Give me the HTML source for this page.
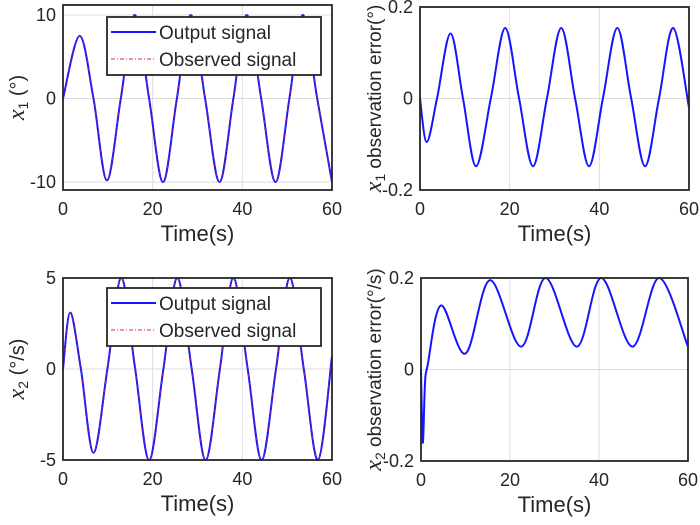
<!DOCTYPE html>
<html><head><meta charset="utf-8"><style>
html,body{margin:0;padding:0;background:#fff;width:700px;height:525px;overflow:hidden}
svg{display:block}
text{font-family:"Liberation Sans",sans-serif;fill:#262626}
</style></head><body>
<svg id="fig" width="700" height="525" viewBox="0 0 700 525"></svg>
<script>
// ---- data ----
const x1Times = [0,3.7,6.8,9.8,12.9,16,19.2,22.3,25.4,28.5,31.7,34.9,38,41,44.2,47.4,50.5,53.5,56.7,60];
const x1Values = [0,7.5,0,-9.8,0,10,0,-10,0,10,0,-10,0,10,0,-10,0,10,0,-10];
const e1Times = [0,1.5,3.8,6.8,9.6,12.5,15.8,19,22.1,25.2,28.3,31.5,34.6,37.7,40.8,44,47.1,50.2,53.3,56.5,60];
const e1Values = [0,-0.095,0,0.142,0,-0.148,0,0.154,0,-0.148,0,0.154,0,-0.148,0,0.154,0,-0.148,0,0.154,-0.02];
const x2Times = [0,1.6,4,6.8,9.9,13,16.1,19.2,22.4,25.5,28.7,31.8,35,38,41.2,44.3,47.5,50.6,53.7,56.9,60];
const x2Values = [0,3.1,0,-4.6,0,5,0,-5,0,5,0,-5,0,5,0,-5,0,5,0,-5,0.7];
const e2Times = [0,0.4,0.9,1.5,4.5,10,15.5,22.5,28,35,40.5,47.5,53.5,60];
const e2Values = [0,-0.16,-0.03,0.01,0.14,0.035,0.195,0.05,0.2,0.05,0.2,0.05,0.2,0.05];
const xTicks = [0,20,40,60];

const NS='http://www.w3.org/2000/svg';
const svg=document.getElementById('fig');
function mk(tag,attrs,parent){const e=document.createElementNS(NS,tag);for(const k in attrs)e.setAttribute(k,attrs[k]);(parent||svg).appendChild(e);return e;}

function spline(px){
  let d='M'+px[0][0].toFixed(1)+','+px[0][1].toFixed(1);
  for(let i=0;i<px.length-1;i++){
    const p0=px[Math.max(0,i-1)],p1=px[i],p2=px[i+1],p3=px[Math.min(px.length-1,i+2)];
    const c1=[p1[0]+(p2[0]-p0[0])/6,p1[1]+(p2[1]-p0[1])/6];
    const c2=[p2[0]-(p3[0]-p1[0])/6,p2[1]-(p3[1]-p1[1])/6];
    d+='C'+c1.map(v=>v.toFixed(1)).join(',')+' '+c2.map(v=>v.toFixed(1)).join(',')+' '+p2[0].toFixed(1)+','+p2[1].toFixed(1);
  }
  return d;
}

function panel(o){
  const g=mk('g',{});
  
  
  const X=v=>o.x0+(v-0)/(60-0)*(o.x1-o.x0);
  const Y=v=>o.yA+(v-o.vA)/(o.vB-o.vA)*(o.yB-o.yA);
  const top=o.top,bot=o.bot;
  xTicks.forEach(t=>{const l=mk('line',{x1:X(t),x2:X(t),y1:top,y2:bot,stroke:'#dcdcdc','stroke-width':1},g);
    });
  o.yTicks.forEach(t=>{const l=mk('line',{x1:o.x0,x2:o.x1,y1:Y(t),y2:Y(t),stroke:'#dcdcdc','stroke-width':1},g);
    });
  const pts=o.t.map((t,i)=>[X(t),Y(o.v[i])]);
  const p=mk('path',{d:spline(pts),fill:'none',stroke:'#1515ff','stroke-width':2},g);
  
  if(o.obs){const q=mk('path',{d:spline(pts),fill:'none',stroke:'#e03030','stroke-width':0.8,'stroke-dasharray':'4,2,1,2',opacity:0.7},g);
    }
  const f=mk('rect',{x:o.x0,y:top,width:o.x1-o.x0,height:bot-top,fill:'none',stroke:'#262626','stroke-width':1.8},g);
  
  xTicks.forEach(t=>{const tx=mk('text',{x:X(t),y:bot+25,'text-anchor':'middle','font-size':18},g);tx.textContent=t;
    });
  o.yTicks.forEach((t,i)=>{const tx=mk('text',{x:o.x0-7,y:Y(t)+6,'text-anchor':'end','font-size':18},g);tx.textContent=o.yLabels[i];
    });
  const xt=mk('text',{x:(o.x0+o.x1)/2,y:bot+51,'text-anchor':'middle','font-size':22},g);xt.textContent='Time(s)';
  
  const yt=mk('text',{transform:`translate(${o.ylx},${(top+bot)/2}) rotate(-90)`,'text-anchor':'middle','font-size':o.yfs},g);
  yt.innerHTML=o.ylab;
  
  if(o.legY!==undefined){
    const lg=mk('g',{},g);
    mk('rect',{x:107,y:o.legY,width:214,height:58,fill:'#fff',stroke:'#262626','stroke-width':1.8},lg);
    const a=mk('line',{x1:111,x2:156,y1:o.legY+15,y2:o.legY+15,stroke:'#1515ff','stroke-width':2},lg);
    
    const b=mk('line',{x1:111,x2:156,y1:o.legY+42,y2:o.legY+42,stroke:'#e03030','stroke-width':1,'stroke-dasharray':'4,2,1,2'},lg);
    
    const t1=mk('text',{x:159,y:o.legY+22,'font-size':19},lg);t1.textContent='Output signal';
    
    const t2=mk('text',{x:159,y:o.legY+49,'font-size':19},lg);t2.textContent='Observed signal';
    
  }
}
const sub=(n,rest)=>`<tspan font-family="Liberation Serif,serif" font-style="italic" font-size="24">x</tspan><tspan font-size="14" dy="4">${n}</tspan><tspan dy="-4">${rest}</tspan>`;
panel({name:'x1-panel',x0:63,x1:332,top:5,bot:190,yA:15,vA:10,yB:182,vB:-10,yTicks:[10,0,-10],yLabels:['10','0','-10'],
  t:x1Times,v:x1Values,obs:true,ylx:24,yfs:20,ylab:sub('1',' (°)'),legY:17});
panel({name:'x1-error-panel',x0:420,x1:689,top:7,bot:190,yA:7,vA:0.2,yB:190,vB:-0.2,yTicks:[0.2,0,-0.2],yLabels:['0.2','0','-0.2'],
  t:e1Times,v:e1Values,obs:false,ylx:381,yfs:19,ylab:sub('1',' observation error(°)')});
panel({name:'x2-panel',x0:63,x1:332,top:278,bot:460,yA:278,vA:5,yB:460,vB:-5,yTicks:[5,0,-5],yLabels:['5','0','-5'],
  t:x2Times,v:x2Values,obs:true,ylx:24,yfs:20,ylab:sub('2',' (°/s)'),legY:288});
panel({name:'x2-error-panel',x0:421,x1:688,top:278,bot:461,yA:278,vA:0.2,yB:461,vB:-0.2,yTicks:[0.2,0,-0.2],yLabels:['0.2','0','-0.2'],
  t:e2Times,v:e2Values,obs:false,ylx:381,yfs:19,ylab:sub('2',' observation error(°/s)')});
</script>
</body></html>
